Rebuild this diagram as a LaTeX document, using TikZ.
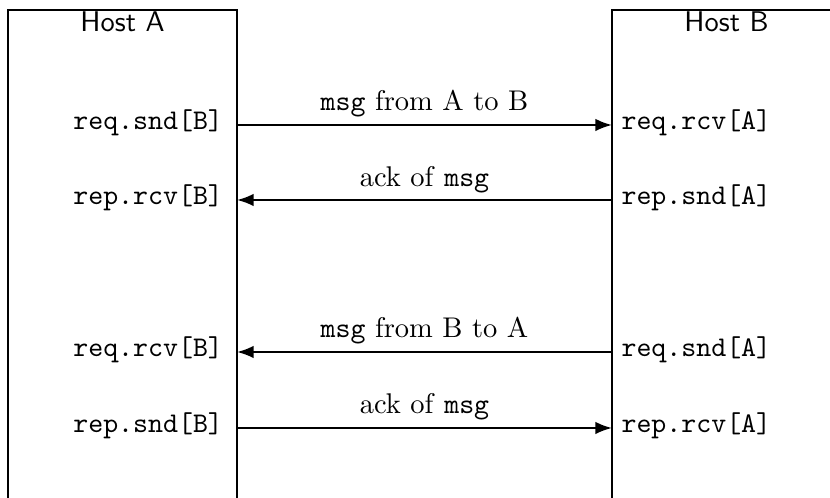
\documentclass[tikz,border=0pt]{standalone}
\usetikzlibrary{arrows.meta}
\begin{document}
\begin{tikzpicture}[x=0.351pt,y=-0.351pt,
  hostbox/.style={draw,line width=0.8pt},
  hostlabel/.style={font=\sffamily,anchor=base,inner sep=0pt},
  lbl/.style={font=\ttfamily,inner sep=0pt},
  msgarrow/.style={line width=0.8pt,-{Latex[length=5.8pt,width=4.4pt]}},
  msglabel/.style={inner sep=0pt,anchor=base}]
\useasboundingbox (0,0) rectangle (830,498);
\clip (0,0) rectangle (830,498);
% host boxes
\draw[hostbox] (8,530) -- (8,10) -- (237,10) -- (237,530);
\draw[hostbox] (612,530) -- (612,10) -- (841,10) -- (841,530);
\node[hostlabel] (hA) at (122.5,32) {Host A};
\node[hostlabel] (hB) at (726.5,32) {Host B};
% edge coordinates
\foreach \n/\y in {1/125,2/200,3/352,4/428}{
  \coordinate (a\n) at (237,\y);
  \coordinate (b\n) at (612,\y);
}
% labels on host A
\node[lbl,anchor=base east] (la1) at (223.5,130) {req.snd[B]};
\node[lbl,anchor=base east] (la2) at (223.5,205) {rep.rcv[B]};
\node[lbl,anchor=base east] (la3) at (223.5,357) {req.rcv[B]};
\node[lbl,anchor=base east] (la4) at (223.5,433) {rep.snd[B]};
% labels on host B
\node[lbl,anchor=base west] (lb1) at (621,130) {req.rcv[A]};
\node[lbl,anchor=base west] (lb2) at (621,205) {rep.snd[A]};
\node[lbl,anchor=base west] (lb3) at (621,357) {req.snd[A]};
\node[lbl,anchor=base west] (lb4) at (621,433) {rep.rcv[A]};
% arrows
\draw[msgarrow] (a1) -- (b1);
\draw[msgarrow] (b2) -- (a2);
\draw[msgarrow] (b3) -- (a3);
\draw[msgarrow] (a4) -- (b4);
% arrow labels
\node[msglabel] (m1) at (424.5,111) {\texttt{msg} from A to B};
\node[msglabel] (m2) at (424.5,187) {ack of \texttt{msg}};
\node[msglabel] (m3) at (424.5,338) {\texttt{msg} from B to A};
\node[msglabel] (m4) at (424.5,414) {ack of \texttt{msg}};
\end{tikzpicture}
\end{document}
